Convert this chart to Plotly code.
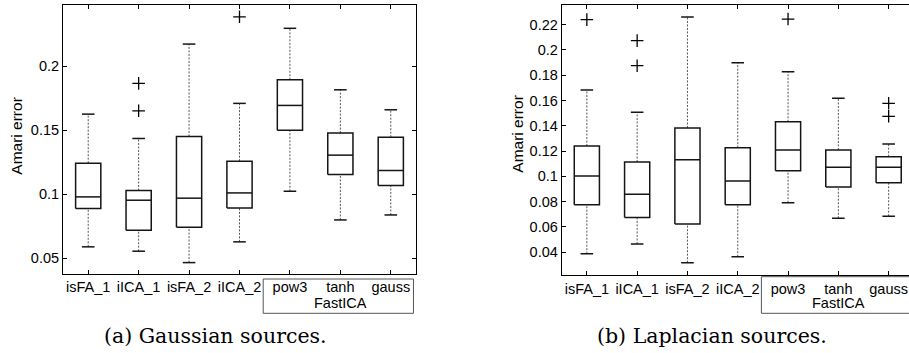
import plotly.graph_objects as go

# ---------------- data ----------------
methods = ["isFA_1", "iICA_1", "isFA_2", "iICA_2", "pow3", "tanh", "gauss"]
group_label = "FastICA"

# (a) Gaussian sources
a_lower = [0.0589, 0.0555, 0.0466, 0.0628, 0.1023, 0.0799, 0.0838]
a_q1 = [0.0888, 0.0719, 0.0742, 0.0893, 0.1500, 0.1154, 0.1068]
a_median = [0.0979, 0.0953, 0.0969, 0.1010, 0.1693, 0.1305, 0.1185]
a_q3 = [0.1242, 0.1029, 0.1451, 0.1258, 0.1893, 0.1477, 0.1445]
a_upper = [0.1625, 0.1435, 0.2172, 0.1709, 0.2295, 0.1815, 0.1659]
a_outliers = [[], [0.1865, 0.1651], [], [0.2385], [], [], []]

# (b) Laplacian sources
b_lower = [0.0389, 0.0466, 0.0318, 0.0365, 0.0792, 0.0669, 0.0685]
b_q1 = [0.0776, 0.0674, 0.0624, 0.0776, 0.1045, 0.0916, 0.0950]
b_median = [0.1003, 0.0858, 0.1132, 0.0964, 0.1209, 0.1072, 0.1072]
b_q3 = [0.1240, 0.1114, 0.1383, 0.1227, 0.1432, 0.1209, 0.1156]
b_upper = [0.1683, 0.1507, 0.2260, 0.1899, 0.1828, 0.1617, 0.1256]
b_outliers = [[0.2239], [0.2073, 0.1875], [], [], [0.2244], [], [0.1578, 0.1475]]

a_ticks = [0.05, 0.1, 0.15, 0.2]
a_ticktext = ["0.05", "0.1", "0.15", "0.2"]
b_ticks = [0.04, 0.06, 0.08, 0.1, 0.12, 0.14, 0.16, 0.18, 0.2, 0.22]
b_ticktext = ["0.04", "0.06", "0.08", "0.1", "0.12", "0.14", "0.16", "0.18", "0.2", "0.22"]

captions = ["(a) Gaussian sources.", "(b) Laplacian sources."]
ytitle = "Amari error"

# ---------------- style ----------------
W, H = 909, 353
BOX_HALF = 0.25
CAP_HALF = 0.125
BOX_COLOR = "#151515"
WHISK_COLOR = "#555555"
SANS = "Arial"
TICK_FONT = dict(family=SANS, size=14.5, color="black")

fig = go.Figure()


def add_boxes(lower, q1, med, q3, upper, outliers, xa, ya):
    pos = list(range(1, len(lower) + 1))
    wx, wy = [], []
    bx, by = [], []
    ox, oy = [], []
    for i, p in enumerate(pos):
        wx += [p, p, None, p, p, None]
        wy += [q3[i], upper[i], None, lower[i], q1[i], None]
        bx += [p - BOX_HALF, p + BOX_HALF, p + BOX_HALF, p - BOX_HALF, p - BOX_HALF, None]
        by += [q1[i], q1[i], q3[i], q3[i], q1[i], None]
        bx += [p - BOX_HALF, p + BOX_HALF, None]
        by += [med[i], med[i], None]
        bx += [p - CAP_HALF, p + CAP_HALF, None, p - CAP_HALF, p + CAP_HALF, None]
        by += [upper[i], upper[i], None, lower[i], lower[i], None]
        for v in outliers[i]:
            ox.append(p)
            oy.append(v)
    fig.add_trace(go.Scatter(x=wx, y=wy, mode="lines", xaxis=xa, yaxis=ya,
                             line=dict(color=WHISK_COLOR, width=1, dash="2px,1.5px"),
                             hoverinfo="skip", showlegend=False))
    fig.add_trace(go.Scatter(x=bx, y=by, mode="lines", xaxis=xa, yaxis=ya,
                             line=dict(color=BOX_COLOR, width=1.5),
                             hoverinfo="skip", showlegend=False))
    fig.add_trace(go.Scatter(x=ox, y=oy, mode="markers", xaxis=xa, yaxis=ya,
                             marker=dict(symbol="cross-thin", size=9,
                                         line=dict(color="black", width=1.3)),
                             hoverinfo="skip", showlegend=False))


add_boxes(a_lower, a_q1, a_median, a_q3, a_upper, a_outliers, "x", "y")
add_boxes(b_lower, b_q1, b_median, b_q3, b_upper, b_outliers, "x2", "y2")

xdom1 = [63 / W, 416 / W]
xdom2 = [561.7 / W, 1.0]
xr1 = [0.5, 7.5]
xr2 = [0.5, 0.5 + (W - 561.7) / 50.3]
ydom1 = [1 - 274 / H, 1 - 5 / H]
ydom2 = [1 - 275.3 / H, 1 - 5 / H]

common_x = dict(showline=True, linecolor="black", linewidth=1, ticks="inside",
                ticklen=4, tickcolor="black", showgrid=False, zeroline=False,
                tickvals=list(range(1, len(methods) + 1)), ticktext=methods,
                tickfont=TICK_FONT, mirror="ticks")
common_y = dict(showline=True, linecolor="black", linewidth=1, ticks="inside",
                ticklen=4, tickcolor="black", showgrid=False, zeroline=False,
                tickfont=TICK_FONT)

fig.update_layout(
    width=W, height=H,
    margin=dict(l=0, r=0, t=0, b=0),
    paper_bgcolor="white", plot_bgcolor="white",
    showlegend=False,
    xaxis=dict(domain=xdom1, range=xr1, anchor="y", **common_x),
    yaxis=dict(domain=ydom1, range=[0.0377, 0.2477], anchor="x",
               tickvals=a_ticks, ticktext=a_ticktext, mirror="ticks", **common_y),
    xaxis2=dict(domain=xdom2, range=xr2, anchor="y2", **common_x),
    yaxis2=dict(domain=ydom2, range=[0.0218, 0.2355], anchor="x2",
                tickvals=b_ticks, ticktext=b_ticktext, mirror=False, **common_y),
)


def to_paper(v, dom, rng):
    return dom[0] + (v - rng[0]) / (rng[1] - rng[0]) * (dom[1] - dom[0])


# group box around FastICA variants
for dom, rng, xref, ytop in [(xdom1, xr1, "x", 1 - 279 / H), (xdom2, xr2, "x2", 1 - 276.7 / H)]:
    x0 = to_paper(4.47, dom, rng)
    x1 = to_paper(7.45, dom, rng)
    fig.add_shape(type="rect", xref="paper", yref="paper", x0=x0, x1=x1,
                  y0=1 - 313.3 / H, y1=ytop, line=dict(color="#555555", width=1))
    fig.add_annotation(text=group_label, xref=xref, yref="paper", x=6, y=1 - 303 / H,
                       showarrow=False, font=TICK_FONT, xanchor="center", yanchor="middle")

# y titles
for xc, yc in [(16.7, 136), (516.7, 134)]:
    fig.add_annotation(text=ytitle, xref="paper", yref="paper", x=xc / W, y=1 - yc / H,
                       textangle=-90, showarrow=False,
                       font=dict(family=SANS, size=15.5, color="black"),
                       xanchor="center", yanchor="middle")

# captions
for cap, xc in zip(captions, [215, 712]):
    fig.add_annotation(text=cap, xref="paper", yref="paper", x=xc / W, y=1 - 336 / H,
                       showarrow=False,
                       font=dict(family="DejaVu Serif", size=20.5, color="black"),
                       xanchor="center", yanchor="middle")

fig.write_html("out.html", config={"displayModeBar": False},
               post_script="document.body.style.margin='0';")
